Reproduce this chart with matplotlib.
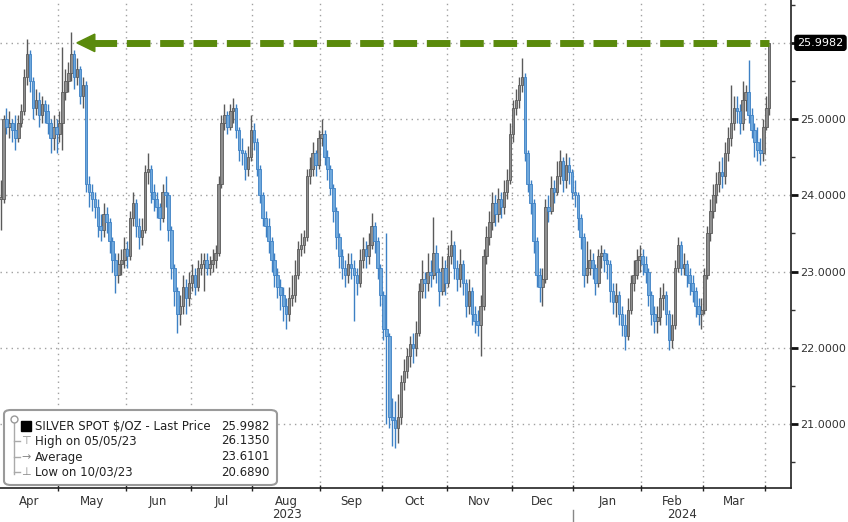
import numpy as np
import pandas as pd
import matplotlib
matplotlib.use("Agg")
import matplotlib.pyplot as plt
from matplotlib.patches import FancyBboxPatch, Rectangle, Polygon

plt.rcParams["font.family"] = ["DejaVu Sans"]

# trading days shown on the chart
dates = pd.bdate_range("2023-04-03", "2024-04-02")

# daily closes, silver spot $/oz
close = [
    23.95, 25.00, 24.90, 24.95, 24.85, 24.75, 24.95, 25.10, 25.55, 25.85,
    25.50, 25.15, 25.25, 25.05, 25.20, 25.10, 24.95, 24.75, 24.90, 24.80,
    24.95, 25.35, 25.50, 25.60, 25.85, 25.55, 25.65, 25.30, 25.45, 24.15,
    24.05, 23.95, 23.85, 23.60, 23.55, 23.75, 23.65, 23.40, 23.15, 22.95,
    23.10, 23.15, 23.30, 23.20, 23.70, 23.90, 23.60, 23.45, 23.55, 24.30,
    24.35, 24.05, 23.95, 23.85, 23.70, 24.05, 24.00, 23.55, 23.05, 22.75,
    22.45, 22.55, 22.80, 22.65, 22.85, 22.95, 22.80, 23.05, 23.10, 23.15,
    23.05, 23.10, 23.15, 23.25, 24.15, 24.95, 25.05, 24.90, 25.10, 25.15,
    24.85, 24.60, 24.55, 24.35, 24.50, 24.85, 24.70, 24.35, 24.00, 23.70,
    23.60, 23.40, 23.15, 22.95, 22.80, 22.70, 22.55, 22.45, 22.65, 22.70,
    22.95, 23.30, 23.35, 23.45, 24.25, 24.35, 24.55, 24.40, 24.75, 24.80,
    24.50, 24.35, 24.10, 23.80, 23.45, 23.20, 23.05, 22.95, 23.10, 23.05,
    22.95, 22.85, 23.15, 23.30, 23.20, 23.35, 23.60, 23.40, 23.05, 22.70,
    22.25, 22.15, 21.10, 21.05, 20.95, 21.10, 21.55, 21.70, 21.90, 22.05,
    22.00, 22.20, 22.75, 22.90, 22.85, 23.00, 22.95, 23.25, 23.00, 22.75,
    23.05, 22.85, 23.20, 23.35, 23.05, 22.90, 23.10, 22.85, 22.55, 22.75,
    22.45, 22.35, 22.30, 22.55, 23.20, 23.45, 23.65, 23.90, 23.75, 23.95,
    23.85, 24.05, 24.20, 24.80, 25.15, 25.25, 25.45, 25.55, 24.55, 24.15,
    23.90, 23.40, 22.95, 22.80, 22.90, 23.85, 23.80, 24.10, 24.05, 24.25,
    24.45, 24.20, 24.40, 24.30, 24.05, 24.00, 23.70, 23.45, 22.95, 23.05,
    23.15, 23.05, 22.85, 23.20, 23.25, 23.15, 23.10, 22.75, 22.60, 22.70,
    22.45, 22.30, 22.15, 22.50, 22.85, 22.95, 23.15, 23.20, 23.10, 23.00,
    22.70, 22.45, 22.35, 22.40, 22.65, 22.70, 22.45, 22.10, 22.30, 23.05,
    23.35, 23.05, 23.10, 22.95, 22.85, 22.75, 22.55, 22.45, 22.50, 22.95,
    23.50, 23.80, 24.00, 24.15, 24.30, 24.25, 24.55, 24.75, 24.95, 25.15,
    25.10, 24.95, 25.25, 25.35, 25.05, 24.85, 24.70, 24.60, 24.55, 24.90,
    25.15, 25.9982,
]
high = [
    24.20, 25.05, 25.15, 25.10, 25.00, 25.05, 25.05, 25.20, 25.65, 26.05,
    25.90, 25.55, 25.40, 25.35, 25.30, 25.25, 25.20, 25.00, 25.05, 25.00,
    25.10, 25.95, 25.65, 25.75, 26.135, 25.90, 25.80, 25.70, 25.55, 25.50,
    24.25, 24.15, 24.05, 23.95, 23.75, 23.90, 23.85, 23.70, 23.45, 23.25,
    23.25, 23.30, 23.45, 23.40, 23.80, 24.05, 23.95, 23.70, 23.70, 24.40,
    24.55, 24.40, 24.15, 24.05, 23.90, 24.15, 24.25, 24.05, 23.60, 23.10,
    22.80, 22.70, 22.95, 22.90, 23.00, 23.10, 23.05, 23.15, 23.25, 23.25,
    23.25, 23.20, 23.30, 23.35, 24.25, 25.05, 25.20, 25.10, 25.20, 25.28,
    25.20, 24.90, 24.75, 24.60, 24.65, 25.05, 24.95, 24.75, 24.40, 24.05,
    23.80, 23.70, 23.45, 23.25, 23.05, 22.90, 22.80, 22.65, 22.80, 22.95,
    23.15, 23.40, 23.50, 23.55, 24.35, 24.50, 24.70, 24.60, 24.85, 25.00,
    24.85, 24.60, 24.40, 24.15, 23.85, 23.50, 23.30, 23.15, 23.25, 23.25,
    23.15, 23.05, 23.30, 23.45, 23.40, 23.50, 23.77, 23.65, 23.45, 23.10,
    22.75, 23.50, 22.20, 21.35, 21.30, 21.40, 21.65, 21.85, 22.00, 22.15,
    22.20, 22.35, 22.85, 23.15, 23.00, 23.25, 23.15, 23.72, 23.35, 23.05,
    23.20, 23.15, 23.35, 23.55, 23.40, 23.15, 23.30, 23.15, 22.90, 22.90,
    22.80, 22.55, 22.50, 22.70, 23.30, 23.60, 23.80, 24.05, 24.00, 24.10,
    24.05, 24.20, 24.35, 24.95, 25.25, 25.40, 25.55, 25.80, 25.60, 24.60,
    24.20, 23.95, 23.45, 23.05, 23.05, 23.95, 24.00, 24.25, 24.20, 24.45,
    24.60, 24.50, 24.55, 24.50, 24.35, 24.20, 24.05, 23.75, 23.50, 23.40,
    23.30, 23.25, 23.10, 23.30, 23.35, 23.30, 23.25, 23.15, 22.85, 22.85,
    22.75, 22.55, 22.45, 22.65, 22.95, 23.15, 23.30, 23.35, 23.30, 23.20,
    23.05, 22.75, 22.55, 22.55, 22.80, 22.85, 22.75, 22.50, 22.45, 23.15,
    23.45, 23.40, 23.25, 23.15, 23.05, 22.95, 22.80, 22.65, 22.65, 23.05,
    23.60, 23.95, 24.15, 24.30, 24.45, 24.50, 24.70, 24.90, 25.45, 25.30,
    25.30, 25.20, 25.50, 25.45, 25.77, 25.15, 24.95, 24.90, 24.75, 25.00,
    25.30, 26.00,
]
low = [
    23.55, 23.90, 24.80, 24.75, 24.70, 24.60, 24.70, 24.90, 25.05, 25.45,
    25.35, 25.00, 25.05, 24.90, 24.95, 24.95, 24.80, 24.55, 24.60, 24.55,
    24.70, 24.60, 25.25, 25.35, 25.50, 25.40, 25.45, 25.20, 25.15, 24.05,
    23.85, 23.80, 23.70, 23.45, 23.40, 23.45, 23.50, 23.25, 23.00, 22.72,
    22.85, 22.95, 23.05, 23.05, 23.15, 23.60, 23.45, 23.30, 23.35, 23.50,
    24.15, 23.90, 23.80, 23.70, 23.55, 23.65, 23.85, 23.40, 22.90, 22.55,
    22.20, 22.30, 22.45, 22.45, 22.55, 22.75, 22.70, 22.75, 22.95, 22.75,
    22.95, 22.95, 23.00, 23.05, 23.20, 24.10, 24.85, 24.80, 24.85, 24.95,
    24.75, 24.45, 24.40, 24.20, 24.25, 24.45, 24.60, 24.25, 23.90, 23.60,
    23.45, 23.25, 23.00, 22.80, 22.65, 22.50, 22.35, 22.25, 22.35, 22.55,
    22.60, 22.90, 23.20, 23.25, 23.40, 24.15, 24.25, 24.25, 24.35, 24.65,
    24.40, 24.20, 24.00, 23.65, 23.30, 23.05, 22.90, 22.80, 22.85, 22.90,
    22.35, 22.70, 22.80, 23.05, 23.05, 23.10, 23.30, 23.25, 22.90, 22.55,
    22.10, 21.00, 20.95, 20.72, 20.689, 20.75, 21.00, 21.45, 21.60, 21.75,
    21.80, 21.90, 22.15, 22.65, 22.65, 22.75, 22.80, 22.90, 22.85, 22.55,
    22.70, 22.70, 22.80, 23.10, 22.90, 22.75, 22.80, 22.70, 22.40, 22.45,
    22.30, 22.20, 22.15, 21.90, 22.50, 23.10, 23.35, 23.55, 23.60, 23.65,
    23.70, 23.75, 23.95, 24.15, 24.70, 25.05, 25.15, 25.35, 24.45, 24.05,
    23.75, 23.25, 22.80, 22.60, 22.55, 22.85, 23.65, 23.75, 23.90, 24.00,
    24.15, 24.05, 24.10, 24.15, 23.95, 23.85, 23.55, 23.30, 22.80, 22.85,
    22.95, 22.90, 22.70, 22.80, 23.05, 23.00, 22.90, 22.60, 22.45, 22.40,
    22.30, 22.15, 21.97, 22.10, 22.45, 22.75, 22.90, 23.00, 22.95, 22.85,
    22.55, 22.30, 22.20, 22.20, 22.30, 22.50, 22.30, 21.97, 22.00, 22.25,
    23.00, 22.95, 22.95, 22.80, 22.70, 22.60, 22.40, 22.30, 22.25, 22.45,
    22.90, 23.40, 23.70, 23.90, 24.05, 24.10, 24.15, 24.45, 24.65, 24.85,
    24.95, 24.80, 24.85, 25.10, 24.95, 24.75, 24.50, 24.45, 24.40, 24.45,
    24.85, 25.05,
]

last_price = 25.9982
period_high = 26.1350
high_date = "05/05/23"
average = 23.6101
period_low = 20.6890
low_date = "10/03/23"

close = np.array(close)
high = np.array(high)
low = np.array(low)
n = len(close)
idx = np.arange(n)
# candle opens at the previous close
opn = np.r_[close[0], close[:-1]]

fig = plt.figure(figsize=(8.48, 5.22), dpi=100)
ax = fig.add_axes([0.0, 34 / 522, 791 / 848, 488 / 522])

up = close >= opn
up_col, up_edge = "#8e8e8e", "#5a5a5a"
dn_col, dn_edge = "#6fa8dc", "#3d80c4"

# wicks
ax.vlines(idx[up], low[up], high[up], color=up_edge, lw=1.0, zorder=3)
ax.vlines(idx[~up], low[~up], high[~up], color=dn_edge, lw=1.0, zorder=3)
# bodies
body_lo = np.minimum(opn, close)
body_h = np.maximum(np.abs(close - opn), 0.03)
ax.bar(idx[up], body_h[up], bottom=body_lo[up], width=0.85,
       color=up_col, edgecolor=up_edge, linewidth=0.6, zorder=4)
ax.bar(idx[~up], body_h[~up], bottom=body_lo[~up], width=0.85,
       color=dn_col, edgecolor=dn_edge, linewidth=0.6, zorder=4)

# green dashed arrow from the last price back to the May high
hi_i = int(np.argmax(high))
green = "#5a8a0c"
ax.plot([hi_i + 7.5, n - 1], [last_price, last_price], color=green, lw=5,
        dashes=(3.4, 1.4), dash_capstyle="butt", zorder=6)
ax.add_patch(Polygon([[hi_i + 1.9, last_price],
                      [hi_i + 8.0, last_price + 0.115],
                      [hi_i + 8.0, last_price - 0.115]],
                     closed=True, color=green, zorder=6))

# month boundaries and labels
months = dates.to_period("M")
starts = [i for i in range(n) if i == 0 or months[i] != months[i - 1]]
bounds = [s - 0.5 for s in starts[1:]]
xmin, xmax = -0.2, 268.4
edges = [xmin] + bounds + [xmax]
centers, labels = [], []
for k in range(len(starts) - 1):
    centers.append((edges[k] + edges[k + 1]) / 2)
    labels.append(dates[starts[k]].strftime("%b"))

ax.set_xlim(xmin, xmax)
ax.set_ylim(20.164, 26.56)

ax.set_xticks(bounds)
ax.set_xticklabels([])
ax.set_xticks(centers, minor=True)
ax.set_xticklabels(labels, minor=True)
ax.tick_params(axis="x", which="major", direction="inout", length=5,
               width=1, color="#222222")
ax.tick_params(axis="x", which="minor", length=0, pad=5,
               labelsize=8.5, labelcolor="#333333")

# year labels centred under each year's span
jan = [b for b, s in zip(bounds, starts[1:]) if dates[s].month == 1][0]
for x0, x1, yr in [(xmin, jan, "2023"), (jan, xmax, "2024")]:
    ax.text((x0 + x1) / 2, -0.040, yr, transform=ax.get_xaxis_transform(),
            ha="center", va="top", fontsize=8.5, color="#333333")
ax.plot([jan, jan], [-0.045, -0.075], transform=ax.get_xaxis_transform(),
        color="#888888", lw=1, clip_on=False)

# right hand price axis
ax.yaxis.tick_right()
yt = [21, 22, 23, 24, 25, 26]
ax.set_yticks(yt)
ax.set_yticklabels([f"{v:.4f}" for v in yt[:-1]] + [""])
ax.set_yticks([20.5, 21.5, 22.5, 23.5, 24.5, 25.5, 26.5], minor=True)
ax.tick_params(axis="y", which="major", direction="out", length=5, width=2,
               color="#111111", labelsize=8, labelcolor="#333333", pad=1.5)
ax.tick_params(axis="y", which="minor", direction="out", length=3,
               width=1, color="#333333")

for s in ["top", "left"]:
    ax.spines[s].set_visible(False)
ax.spines["right"].set_color("#222222")
ax.spines["bottom"].set_color("#222222")
ax.spines["right"].set_linewidth(1.2)
ax.spines["bottom"].set_linewidth(1.2)

grid_kw = dict(color="#a0a0a0", lw=1.0, linestyle=(0, (1, 3)), zorder=1)
for b in bounds:
    ax.axvline(b, **grid_kw)
for v in yt:
    ax.axhline(v, **grid_kw)

# last price tag
ax.text(1.008, last_price, f"{last_price:.4f}", transform=ax.get_yaxis_transform(),
        ha="left", va="center", fontsize=8, color="white", zorder=10,
        bbox=dict(boxstyle="round,pad=0.22", fc="black", ec="black"),
        clip_on=False)

# legend panel
def fx(px):
    return px / 848

def fy(py):
    return 1 - py / 522

fig.patches.append(FancyBboxPatch((fx(4), fy(485)), fx(273), 75 / 522,
                                  boxstyle="round,pad=0,rounding_size=0.008",
                                  transform=fig.transFigure, fc="white",
                                  ec="#9a9a9a", lw=1.5, zorder=5))
fig.lines.append(plt.Line2D([fx(14), fx(14)], [fy(421), fy(474)],
                            transform=fig.transFigure, color="#aaaaaa",
                            lw=1, zorder=6))
for yy in [441, 457, 472]:
    fig.lines.append(plt.Line2D([fx(14), fx(20)], [fy(yy), fy(yy)],
                                transform=fig.transFigure, color="#aaaaaa",
                                lw=1, zorder=6))
fig.lines.append(plt.Line2D([fx(14)], [fy(419)], transform=fig.transFigure,
                            marker="o", ms=5, mfc="white", mec="#999999",
                            zorder=7))
fig.patches.append(Rectangle((fx(21), fy(431)), fx(10), 10 / 522,
                             transform=fig.transFigure, fc="black",
                             ec="black", zorder=7))

rows = [
    (426, None, "SILVER SPOT $/OZ - Last Price", f"{last_price:.4f}"),
    (441, "⊤", f"High on {high_date}", f"{period_high:.4f}"),
    (457, "→", "Average", f"{average:.4f}"),
    (472, "⊥", f"Low on {low_date}", f"{period_low:.4f}"),
]
for yy, sym, label, val in rows:
    if sym:
        fig.text(fx(26), fy(yy), sym, ha="center", va="center", fontsize=8,
                 color="#888888", zorder=8)
    fig.text(fx(35), fy(yy), label, ha="left", va="center", fontsize=8.5,
             color="#222222", zorder=8)
    fig.text(fx(270), fy(yy), val, ha="right", va="center", fontsize=8.5,
             color="#222222", zorder=8)

fig.savefig("out.png", dpi=100, facecolor="white")
